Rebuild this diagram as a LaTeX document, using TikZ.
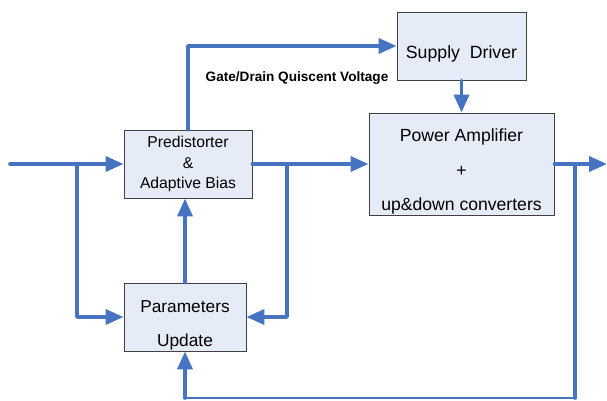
\documentclass[tikz,border=0pt]{standalone}
\usepackage{fontspec}
\setmainfont{Liberation Sans}
\usetikzlibrary{arrows.meta}
\definecolor{wire}{RGB}{70,116,193}
\definecolor{boxfill}{RGB}{230,236,247}
\tikzset{
block/.style={
	  draw=black!75, fill=boxfill, line width=0.9pt,
	    align=center, inner sep=0pt},
wireline/.style={draw=wire, line width=3.6pt, line cap=round, line join=round},
flow/.style={wireline, -{Triangle[length=18pt,width=15pt]}},
thinwire/.style={draw=wire, line width=2pt}
}
\newcommand{\topgap}{\rule{0pt}{28pt}}

\begin{document}
\begin{tikzpicture}[x=1pt, y=-1pt]
	\useasboundingbox (0,0) rectangle (607,401);
	\node[block, minimum width=128pt, minimum height=68pt,
		font=\fontsize{15.7}{20.5}\selectfont] (pred) at (188,164)
		{Predistorter\\\&\\Adaptive Bias};
	\node[block, minimum width=129pt, minimum height=68pt, text height=30pt,
		text depth=4pt, font=\fontsize{17.7}{20}\selectfont] (supply) at (461.5,46)
		{Supply\ \ Driver};
	\node[block, minimum width=185pt, minimum height=102pt,
		font=\fontsize{17.6}{34.5}\selectfont] (pa) at (461.5,164)
		{\topgap Power Amplifier\\+\\up\&down converters};
	\node[block, minimum width=122pt, minimum height=68pt,
		font=\fontsize{17.3}{34}\selectfont] (param) at (185,317)
		{\topgap Parameters\\Update};
	\node[font=\bfseries\fontsize{13.6}{16}\selectfont] (gdv) at (297,78)
		{Gate/Drain Quiscent Voltage};
	\coordinate (in) at (10,164);
	\coordinate (out) at (607,164);
	\coordinate (b1) at (77,164);
	\coordinate (b2) at (287,164);
	\coordinate (b3) at (575,164);
	\coordinate (b4) at (575,398);
	\coordinate (b5) at (param.south |- b4);
	% forward path
	\draw[flow] (in) -- (pred.west);
	\draw[flow] (pred.east) -- (pa.west);
	\draw[flow] (pa.east) -- (out);
	\draw[flow] (pred.north) |- (supply.west);
	\draw[flow] (supply.south) -- (pa.north);
	% adaptation
	\draw[flow] (b1) |- (param.west);
	\draw[flow] (b2) |- (param.east);
	\draw[flow] (param.north) -- (param.north |- pred.south);
	\draw[wireline] (b3) -- (b4);
	\draw[thinwire] (b4) -- (b5);
	\draw[flow] (b5) -- (param.south);
\end{tikzpicture}
\end{document}
